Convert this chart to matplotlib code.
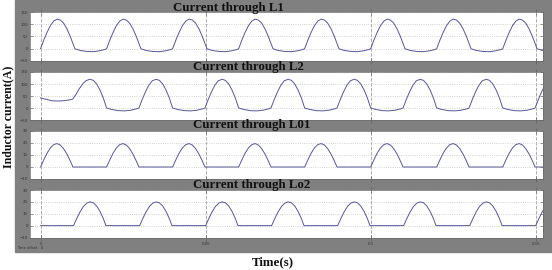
#!/usr/bin/env python3
# four stacked scope traces of inductor currents
import numpy as np
import matplotlib
matplotlib.use('Agg')
import matplotlib.pyplot as plt
from matplotlib.patches import Rectangle

W, H = 552, 270

# start time of each 20 ms cycle
cycle_starts = [0.00, 0.02, 0.04, 0.06, 0.08, 0.10, 0.12, 0.14]

# one cycle of each trace (time offset in s, current in A)
l1_t = [0, .001, .002, .003, .004, .005, .006, .007, .008, .009, .0104, .012, .014, .016, .018, .0195]
l1_v = [0, 36, 68, 95, 113, 121, 117, 104, 81, 50, 0, -7, -11, -12, -8, -3]

l2_t = [0, .0015, .0035, .0055, .0075, .0092, .0098, .0108, .0118, .0128, .0138, .0150, .0160, .0170, .0180, .0190]
l2_v = [0, -6, -11, -12, -9, -3, 0, 36, 68, 95, 113, 120, 115, 100, 75, 42]
# first L2 cycle sits higher (start-up)
l2_first_v = [42, 37, 30, 29, 31, 35, 38, 58, 82, 101, 114, 120, 115, 100, 75, 42]

l01_t = [0, .001, .002, .003, .004, .005, .006, .007, .008, .009, .0098, .0199]
l01_v = [0, 6.1, 11.7, 16, 18.7, 19.5, 18.3, 15.2, 10.7, 5, 0, 0]

lo2_t = [0, .0100, .0110, .0120, .0130, .0140, .0150, .0160, .0170, .0180, .0190, .0198]
lo2_v = [0, 0, 6.2, 11.8, 16.2, 19, 20, 19.2, 16.5, 12, 6, 0]

titles = ['Current through L1', 'Current through L2', 'Current through L01', 'Current through Lo2']
yticks_big = [-50, 0, 50, 100, 150]
yticks_small = [-10, 0, 10, 20, 30]
xticks = [0, 0.05, 0.1, 0.15]
xtick_labels = ['0', '0.05', '0.1', '0.15']


def build(t, v, first_v=None):
    xs, ys = [], []
    for i, s in enumerate(cycle_starts):
        xs.append(s + np.array(t))
        ys.append(np.array(first_v if (i == 0 and first_v is not None) else v))
    return np.concatenate(xs), np.concatenate(ys)


series = [build(l1_t, l1_v), build(l2_t, l2_v, l2_first_v),
          build(l01_t, l01_v), build(lo2_t, lo2_v)]

fig = plt.figure(figsize=(W / 100, H / 100), dpi=100)
fig.patches.append(Rectangle((15 / W, 18 / H), 537 / W, 252 / H,
                             transform=fig.transFigure, color='#808080', zorder=-5))

# panel boxes in pixels (left, top, right, bottom)
boxes = [(30, 12, 543, 61), (30, 72, 543, 120), (30, 131, 543, 179), (30, 190, 543, 237.5)]
title_pos = [(173, 10.5), (193, 70), (193, 128.5), (193, 188)]

for i, (x0, y0, x1, y1) in enumerate(boxes):
    ax = fig.add_axes([x0 / W, 1 - y1 / H, (x1 - x0) / W, (y1 - y0) / H])
    ax.set_facecolor('white')
    x, y = series[i]
    ax.plot(x, y, color='#56569a', lw=0.7)
    ax.set_xlim(-0.0032, 0.1522)
    if i < 2:
        ax.set_ylim(-50, 150)
        ax.set_yticks(yticks_big)
    else:
        ax.set_ylim(-10, 30)
        ax.set_yticks(yticks_small)
    ax.set_xticks(xticks)
    if i == 3:
        ax.set_xticklabels(xtick_labels)
    else:
        ax.set_xticklabels([])
    ax.grid(axis='y', color='#c4c4c4', ls=':', lw=0.6)
    ax.grid(axis='x', color='#8c8c8c', ls=(0, (5, 2)), lw=0.5)
    ax.tick_params(axis='y', direction='in', length=2.5, width=0.4, right=True,
                   color='#555555', labelsize=2.8, labelcolor='#333333', pad=1.5)
    ax.tick_params(axis='x', direction='inout', length=4, width=0.4, top=True,
                   color='#555555', labelsize=2.8, labelcolor='#333333', pad=1.5)
    for sp in ax.spines.values():
        sp.set_color('#6a6a6a')
        sp.set_linewidth(0.5)
    tx, ty = title_pos[i]
    fig.text(tx / W, 1 - ty / H, titles[i], family='Liberation Serif', weight='bold',
             fontsize=9.3, va='baseline', ha='left', color='#111111', zorder=10)

fig.text(17 / W, 1 - 249 / H, 'Time offset:  0', fontsize=2.6, color='#333333', va='baseline')
fig.text(252 / W, 1 - 265 / H, 'Time(s)', family='Liberation Serif', weight='bold',
         fontsize=9.3, va='baseline', ha='left', color='#111111')
fig.text(8 / W, 1 - 117 / H, 'Inductor current(A)', family='Liberation Serif', weight='bold',
         fontsize=8.6, rotation=90, va='center', ha='center', color='#111111')

fig.savefig('out.png', dpi=100, facecolor='white')
